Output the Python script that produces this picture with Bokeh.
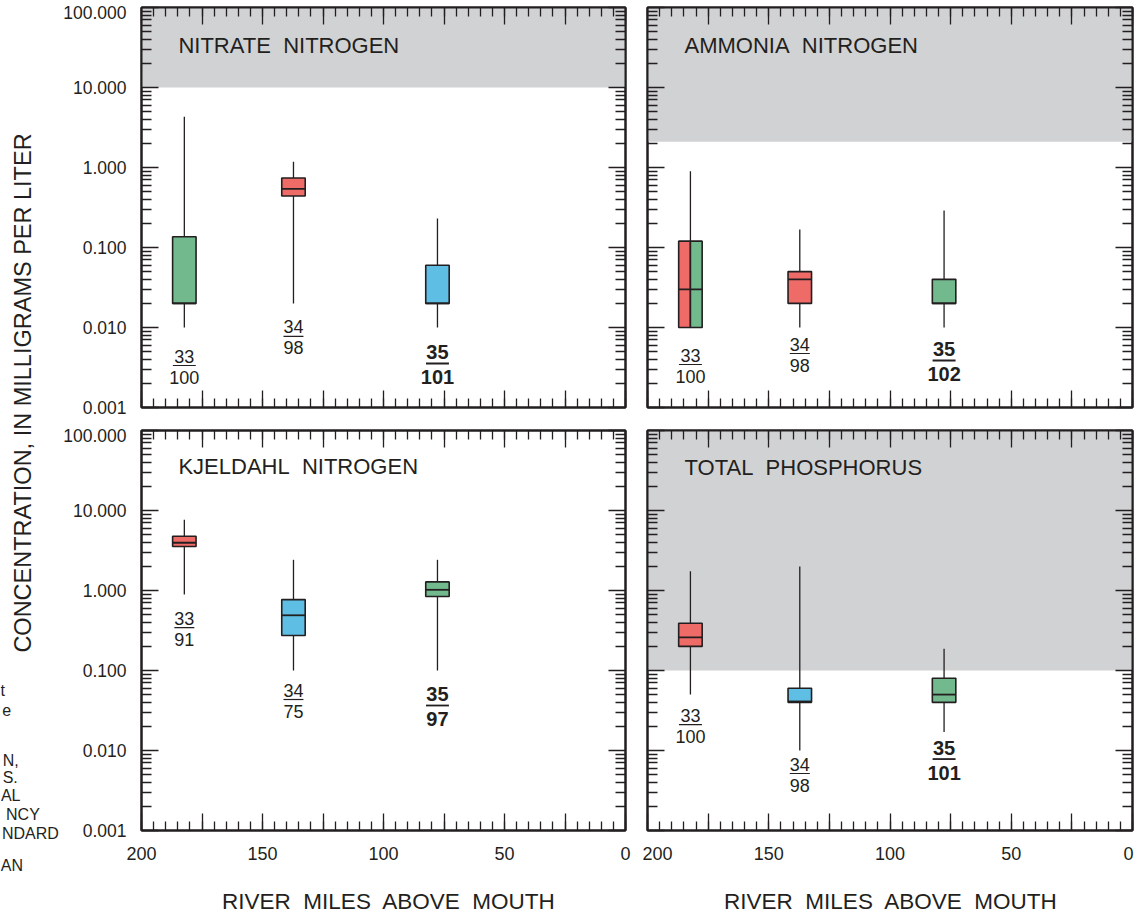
import math

from bokeh.core.properties import value
from bokeh.embed import file_html
from bokeh.layouts import column, row
from bokeh.models import (BoxAnnotation, ColumnDataSource, CustomJSTickFormatter,
                          FixedTicker, Label, LinearAxis, LogAxis,
                          NumeralTickFormatter, Range1d)
from bokeh.plotting import figure
from bokeh.resources import INLINE

# ------------------------------------------------------------------ data
station_ids = ["33", "34", "35"]
river_miles = [182.3, 137.2, 77.7]

nitrate_count = [100, 98, 101]
nitrate_min = [0.010, 0.020, 0.010]
nitrate_q1 = [0.020, 0.44, 0.020]
nitrate_median = [0.020, 0.54, 0.020]
nitrate_q3 = [0.136, 0.74, 0.060]
nitrate_max = [4.3, 1.18, 0.23]
nitrate_groups = [["green"], ["red"], ["blue"]]
nitrate_standard = 10.0

ammonia_count = [100, 98, 102]
ammonia_min = [0.010, 0.010, 0.010]
ammonia_q1 = [0.010, 0.020, 0.020]
ammonia_median = [0.030, 0.040, 0.020]
ammonia_q3 = [0.120, 0.050, 0.040]
ammonia_max = [0.90, 0.168, 0.29]
ammonia_groups = [["red", "green"], ["red"], ["green"]]
ammonia_standard = 2.1

kjeldahl_count = [91, 75, 97]
kjeldahl_min = [0.89, 0.10, 0.10]
kjeldahl_q1 = [3.55, 0.274, 0.84]
kjeldahl_median = [3.95, 0.49, 1.02]
kjeldahl_q3 = [4.77, 0.77, 1.28]
kjeldahl_max = [7.65, 2.42, 2.42]
kjeldahl_groups = [["red"], ["blue"], ["green"]]
kjeldahl_standard = None

phosphorus_count = [100, 98, 101]
phosphorus_min = [0.050, 0.010, 0.017]
phosphorus_q1 = [0.20, 0.040, 0.040]
phosphorus_median = [0.26, 0.041, 0.050]
phosphorus_q3 = [0.39, 0.060, 0.080]
phosphorus_max = [1.74, 2.0, 0.187]
phosphorus_groups = [["red"], ["blue"], ["green"]]
phosphorus_standard = 0.1

y_ticks = [0.001, 0.01, 0.1, 1, 10, 100]
y_tick_labels = ["0.001", "0.010", "0.100", "1.000", "10.000", "100.000"]
x_ticks = [0, 25, 50, 75, 100, 125, 150, 175, 200]
x_label_values = [200, 150, 100, 50, 0]
x_tick_labels = ["200", "150", "100", "50", "0"]

x_title = "RIVER MILES ABOVE MOUTH"
y_title = "CONCENTRATION, IN MILLIGRAMS PER LITER"

# clipped legend text that runs in from the neighbouring figure
margin_fragments = ["t", "e", "N,", "S.", "AL", "NCY", "NDARD", "AN"]

# ------------------------------------------------------------------ style
FONT = "Liberation Sans"
INK = "#231f20"
GRAY = "#d1d2d4"
FILLS = {"red": "#ef6b67", "green": "#72b98d", "blue": "#5fbee4"}
GAP = "\u00a0 "  # wide word spacing used in the headings

X_START, X_END = 200, 0
Y_MIN, Y_MAX = 0.001, 100
FRAME_W, FRAME_H = 485, 400
PX_PER_MILE = FRAME_W / (X_START - X_END)
PX_PER_DECADE = FRAME_H / math.log10(Y_MAX / Y_MIN)
BOX_W = 23.5 / PX_PER_MILE

x_minor = list(range(0, 201, 5))
y_minor = [m * 10.0 ** e for e in range(-3, 2) for m in range(2, 10)]

BLANK = CustomJSTickFormatter(code="return ''")

PAGE_W, PAGE_H = 1137, 913
STRIP_W = 60                       # left strip with the concentration title
LEFT_BORDER = (80, 11)             # frame offsets: left column, right column
RIGHT_BORDER = (11, 5)
TOP_H = 7 + FRAME_H + 12           # top row canvas height
BOTTOM_H = 11 + FRAME_H + 45       # bottom row canvas height
TITLE_H = PAGE_H - TOP_H - BOTTOM_H  # strip carrying the mile-axis titles


def spaced(text):
    return GAP.join(text.split(" "))


def tick_axis(ax, major_len, minor_len):
    """Frame edge with inward ticks and no labels."""
    ax.axis_line_color = INK
    ax.axis_line_width = 2
    ax.major_tick_in = major_len
    ax.major_tick_out = 0
    ax.minor_tick_in = minor_len
    ax.minor_tick_out = 0
    ax.major_tick_line_color = INK
    ax.major_tick_line_width = 1.3
    ax.minor_tick_line_color = INK
    ax.minor_tick_line_width = 1.3
    ax.formatter = BLANK
    ax.major_label_standoff = 0
    ax.major_label_text_font_size = "1px"
    return ax


def label_axis(ax, positions, labels, size, standoff):
    """Labels only: no line, no tick marks."""
    ax.axis_line_color = None
    ax.major_tick_in = 0
    ax.major_tick_out = 0
    ax.minor_tick_in = 0
    ax.minor_tick_out = 0
    ax.major_tick_line_color = None
    ax.minor_tick_line_color = None
    ax.major_label_overrides = dict(zip(positions, labels))
    ax.major_label_text_font = FONT
    ax.major_label_text_color = INK
    ax.major_label_text_font_size = size
    ax.major_label_standoff = standoff
    return ax


def make_panel(title, count, lo, q1, med, q3, hi, groups, standard,
               label_gaps, title_drop, left_col, top_row):
    col = 0 if left_col else 1
    b_left = LEFT_BORDER[col]
    b_right = RIGHT_BORDER[col]
    b_top = 7 if top_row else 11
    b_bottom = TOP_H - 7 - FRAME_H if top_row else BOTTOM_H - 11 - FRAME_H

    p = figure(
        width=b_left + FRAME_W + b_right,
        height=b_top + FRAME_H + b_bottom,
        x_range=Range1d(X_START, X_END),
        y_range=Range1d(Y_MIN, Y_MAX),
        y_axis_type="log",
        x_axis_location=None,
        y_axis_location=None,
        min_border_left=b_left,
        min_border_right=b_right,
        min_border_top=b_top,
        min_border_bottom=b_bottom,
        output_backend="svg",
        toolbar_location=None,
        title=None,
        background_fill_color="white",
        border_fill_color="white",
        outline_line_color=INK,
        outline_line_width=2,
    )
    p.grid.visible = False

    # regulatory standard: shaded band from the limit to the top of the scale
    if standard is not None:
        p.add_layout(BoxAnnotation(left=X_START, right=X_END, bottom=standard,
                                   top=Y_MAX, fill_color=GRAY, fill_alpha=1.0,
                                   line_color=None, level="underlay"))

    # whiskers
    p.segment(x0=river_miles, y0=lo, x1=river_miles, y1=hi,
              line_color=INK, line_width=1.3)

    # interquartile boxes, split when a station belongs to two groups
    bx, bw, bb, bt, bf = [], [], [], [], []
    for i, cols in enumerate(groups):
        n = len(cols)
        for k, c in enumerate(cols):
            bx.append(river_miles[i] + BOX_W / 2 - (k + 0.5) * BOX_W / n)
            bw.append(BOX_W / n)
            bb.append(q1[i])
            bt.append(q3[i])
            bf.append(FILLS[c])
    p.vbar(x="x", width="w", bottom="b", top="t", fill_color="f",
           line_color=INK, line_width=1.6,
           source=ColumnDataSource(dict(x=bx, w=bw, b=bb, t=bt, f=bf)))

    # medians
    p.segment(x0=[m + BOX_W / 2 for m in river_miles], y0=med,
              x1=[m - BOX_W / 2 for m in river_miles], y1=med,
              line_color=INK, line_width=1.8)

    # station number over sample count, set below each whisker
    last = len(station_ids) - 1
    bar_y = [lo[i] * 10 ** (-label_gaps[i] / PX_PER_DECADE) for i in range(len(lo))]
    tx, ty, tt, toff, tstyle, tsize = [], [], [], [], [], []
    sx0, sx1, sy, sw = [], [], [], []
    for i, m in enumerate(river_miles):
        bold = i == last
        num_off, den_off = (-11.5, 13.5) if bold else (-9.5, 11.5)
        for txt, off in ((station_ids[i], num_off), (str(count[i]), den_off)):
            tx.append(m)
            ty.append(bar_y[i])
            tt.append(txt)
            toff.append(off)
            tstyle.append("bold" if bold else "normal")
            tsize.append("20px" if bold else "18px")
        half = (11.5 if (bold or len(str(count[i])) > 2) else 10) / PX_PER_MILE
        sx0.append(m + half)
        sx1.append(m - half)
        sy.append(bar_y[i])
        sw.append(1.8 if bold else 1.2)
    p.text(x="x", y="y", text="t", y_offset="o", text_font_style="s",
           text_font_size="z", text_font=value(FONT), text_color=INK,
           text_align="center", text_baseline="middle",
           source=ColumnDataSource(dict(x=tx, y=ty, t=tt, o=toff, s=tstyle, z=tsize)))
    p.segment(x0="x0", y0="y", x1="x1", y1="y", line_width="w", line_color=INK,
              source=ColumnDataSource(dict(x0=sx0, x1=sx1, y=sy, w=sw)))

    # panel heading
    p.add_layout(Label(x=X_START - 37 / PX_PER_MILE,
                       y=Y_MAX * 10 ** (-title_drop / PX_PER_DECADE),
                       text=spaced(title), text_font=FONT, text_font_size="22px",
                       text_color=INK, text_align="left",
                       text_baseline="alphabetic"))

    # frame edges on all four sides, ticks pointing inward
    p.add_layout(tick_axis(LinearAxis(ticker=FixedTicker(ticks=x_ticks, minor_ticks=x_minor)), 17, 9), "below")
    p.add_layout(tick_axis(LinearAxis(ticker=FixedTicker(ticks=x_ticks, minor_ticks=x_minor)), 17, 9), "above")
    p.add_layout(tick_axis(LogAxis(ticker=FixedTicker(ticks=y_ticks, minor_ticks=y_minor)), 17, 10), "left")
    p.add_layout(tick_axis(LogAxis(ticker=FixedTicker(ticks=y_ticks, minor_ticks=y_minor)), 17, 10), "right")

    # tick labels sit a touch inside where they would crowd an edge
    if not top_row:
        xpos = list(x_label_values)
        if not left_col:
            xpos[0] = X_START - 10 / PX_PER_MILE
            xpos[-1] = X_END + 4 / PX_PER_MILE
        p.add_layout(label_axis(LinearAxis(ticker=FixedTicker(ticks=xpos, minor_ticks=[])),
                                xpos, x_tick_labels, "18px", 16), "below")
    if left_col:
        ypos = list(y_ticks)
        ypos[-1] = Y_MAX * 10 ** (-4.5 / PX_PER_DECADE)
        ax = LogAxis(ticker=FixedTicker(ticks=ypos, minor_ticks=[]),
                     formatter=NumeralTickFormatter(format="0.000"))
        p.add_layout(label_axis(ax, ypos, y_tick_labels, "17.5px", 15), "left")
    return p


nitrate = make_panel("NITRATE NITROGEN", nitrate_count, nitrate_min, nitrate_q1,
                     nitrate_median, nitrate_q3, nitrate_max, nitrate_groups,
                     nitrate_standard, [38, 33, 36], 38, True, True)
ammonia = make_panel("AMMONIA NITROGEN", ammonia_count, ammonia_min, ammonia_q1,
                     ammonia_median, ammonia_q3, ammonia_max, ammonia_groups,
                     ammonia_standard, [37, 26, 33], 38, False, True)
kjeldahl = make_panel("KJELDAHL NITROGEN", kjeldahl_count, kjeldahl_min, kjeldahl_q1,
                      kjeldahl_median, kjeldahl_q3, kjeldahl_max, kjeldahl_groups,
                      kjeldahl_standard, [33, 29, 35], 36, True, False)
phosphorus = make_panel("TOTAL PHOSPHORUS", phosphorus_count, phosphorus_min,
                        phosphorus_q1, phosphorus_median, phosphorus_q3,
                        phosphorus_max, phosphorus_groups, phosphorus_standard,
                        [30, 23, 27], 37, False, False)


def blank_strip(width, height):
    s = figure(width=width, height=height, x_range=Range1d(0, width),
               y_range=Range1d(height, 0), x_axis_location=None,
               y_axis_location=None, output_backend="svg", toolbar_location=None,
               title=None, min_border=0, outline_line_color=None,
               background_fill_color="white", border_fill_color="white")
    s.grid.visible = False
    return s


# left strip: shared vertical title and the clipped neighbouring legend
side = blank_strip(STRIP_W, TOP_H + BOTTOM_H)
side.text(x=[22], y=[392.5], text=[y_title],
          angle=math.pi / 2, text_align="center", text_baseline="middle",
          text_font=value(FONT), text_font_size="23.5px", text_color=INK)
frag_right = [4.5, 10.7, 18.3, 17.3, 20, 39.3, 58.3, 22.5]
frag_mid = [690, 709, 760, 777, 795, 814, 833, 865]
side.text(x=frag_right, y=frag_mid, text=margin_fragments, text_align="right",
          text_baseline="middle", text_font=value(FONT), text_font_size="16px",
          text_color=INK)

# bottom strip: the mile-axis title under each column of panels
left_frame_mid = STRIP_W + LEFT_BORDER[0] + FRAME_W / 2
right_frame_mid = STRIP_W + nitrate.width + LEFT_BORDER[1] + FRAME_W / 2
title_mid_y = TITLE_H / 2 + 6.5
foot = blank_strip(PAGE_W, TITLE_H)
foot.text(x=[left_frame_mid + 6, right_frame_mid + 1],
          y=[title_mid_y, title_mid_y],
          text=[spaced(x_title), spaced(x_title)],
          text_align="center", text_baseline="middle",
          text_font=value(FONT), text_font_size="22.5px", text_color=INK)

layout = column(row(side, column(nitrate, kjeldahl), column(ammonia, phosphorus)),
                foot)

with open("out.html", "w") as f:
    f.write(file_html(layout, INLINE))
